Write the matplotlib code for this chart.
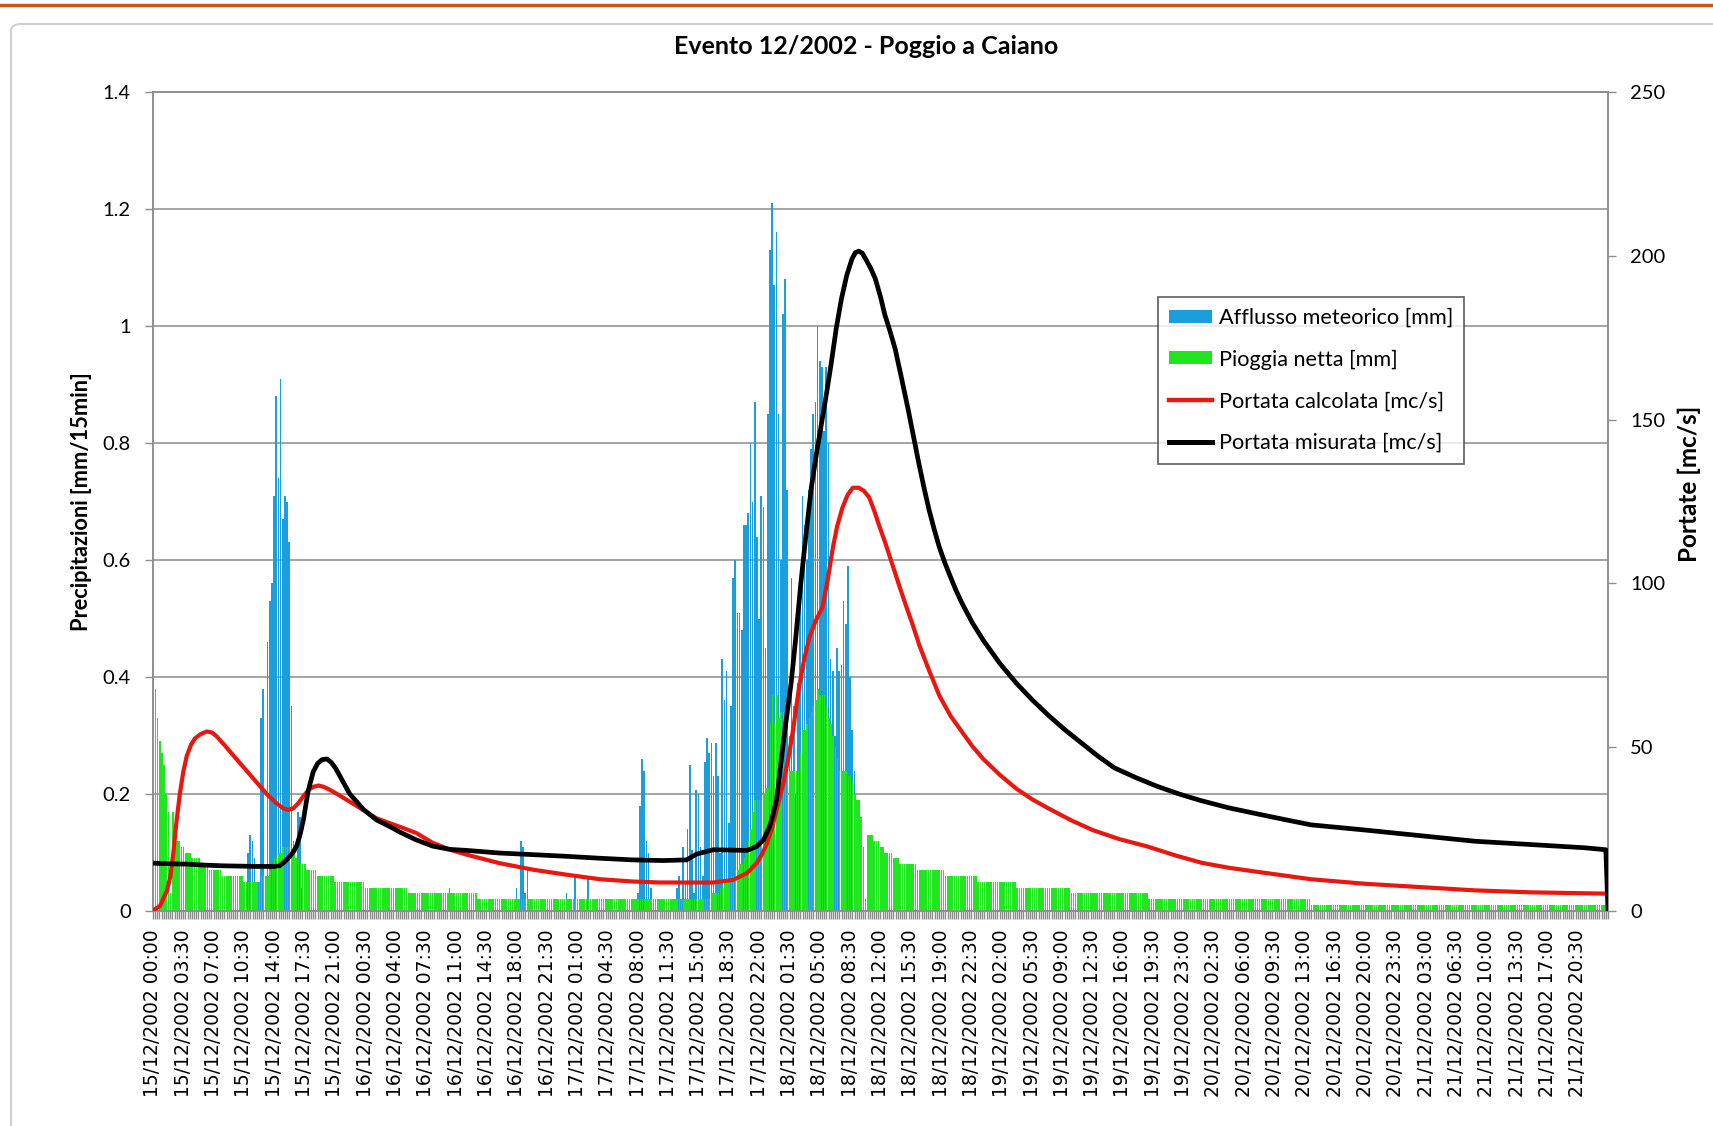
import numpy as np
import matplotlib
matplotlib.use("Agg")
import matplotlib.pyplot as plt
from matplotlib.patches import FancyBboxPatch, Patch
from matplotlib.lines import Line2D
from datetime import datetime, timedelta

# --- dati -------------------------------------------------------------------
inizio = datetime(2002, 12, 15, 0, 0)
n_passi = 673          # passi da 15 minuti: 15/12 00:00 -> 22/12 00:00
passo_h = 0.25

# Afflusso meteorico [mm/15min]: solo i tratti non nulli (indice iniziale, valori)
afflusso_a_da = 44
afflusso_a = [0.10, 0.13, 0.12, 0.09, 0.03, 0.05, 0.33, 0.38, 0.04, 0.46,
              0.53, 0.56, 0.71, 0.88, 0.74, 0.91, 0.67, 0.71, 0.70, 0.63,
              0.35, 0.12, 0.05, 0.17, 0.16, 0.04]
afflusso_b_da = 137
afflusso_b = [0.04]
afflusso_c_da = 168
afflusso_c = [0.04, 0.02, 0.12, 0.11, 0.03, 0.07]
afflusso_d_da = 191
afflusso_d = [0.03, 0, 0, 0, 0.06, 0, 0, 0, 0, 0, 0.06]
afflusso_e_da = 224
afflusso_e = [0.03, 0.18, 0.26, 0.24, 0.12, 0.10, 0.04]
afflusso_f_da = 242
afflusso_f = [0.04, 0.06, 0.02, 0.11, 0.05, 0.14, 0.25, 0.105, 0.03, 0.206,
              0.20, 0.11, 0.06, 0.255, 0.296, 0.27, 0.287, 0.23, 0.287, 0.23,
              0.10, 0.43, 0.36, 0.41, 0.15, 0.35, 0.57, 0.60, 0.51, 0.51,
              0.48, 0.66, 0.66, 0.68, 0.80, 0.70, 0.87, 0.64, 0.50, 0.71,
              0.69, 0.45, 0.85, 1.13, 1.21, 1.07, 1.16, 0.85, 0.60, 1.02,
              1.08, 0.72, 0.30, 0.57, 0.35, 0.20, 0.39, 0.57, 0.71, 0.66,
              0.60, 0.72, 0.79, 0.85, 0.87, 1.00, 0.94, 0.93, 0.82, 0.93,
              0.80, 0.43, 0.41, 0.30, 0.45, 0.41, 0.42, 0.53, 0.49, 0.59,
              0.40, 0.31, 0.24, 0.05]

# Pioggia netta [mm/15min]: tratti variabili e gradini (valore, n. passi)
netta_inizio = [0.42, 0.38, 0.33, 0.29, 0.27, 0.25, 0.20, 0.17, 0.03, 0.17,
                0.13, 0.12, 0.12, 0.11, 0.11, 0.10, 0.10, 0.10, 0.09, 0.09,
                0.09, 0.09, 0.08, 0.08, 0.08, 0.08]
netta_gradini_1 = [(0.07, 6), (0.06, 10), (0.05, 6)]
netta_evento_1 = [0.05, 0.05, 0.06, 0.06, 0.06, 0.06, 0.07, 0.08, 0.09, 0.09,
                  0.10, 0.10, 0.11, 0.11, 0.11, 0.11, 0.10, 0.10, 0.09, 0.09,
                  0.08, 0.08, 0.08, 0.07, 0.07, 0.07, 0.07, 0.07]
netta_gradini_2 = [(0.06, 8), (0.05, 14), (0.04, 20), (0.03, 32), (0.02, 106)]
netta_evento_2 = [0.02, 0.02, 0.03, 0.03, 0.03, 0.03, 0.04, 0.04, 0.05, 0.05,
                  0.05, 0.06, 0.06, 0.07, 0.07, 0.08, 0.08, 0.09, 0.10, 0.12,
                  0.14, 0.17, 0.19, 0.19, 0.19, 0.19, 0.20, 0.21, 0.21, 0.32,
                  0.37, 0.32, 0.37, 0.33, 0.34, 0.34, 0.29, 0.25, 0.24, 0.24,
                  0.24, 0.24, 0.24, 0.27, 0.31, 0.31, 0.32, 0.33, 0.34, 0.35,
                  0.36, 0.38, 0.37, 0.37, 0.37, 0.35, 0.33, 0.32, 0.30, 0.28,
                  0.26, 0.24, 0.24, 0.24, 0.24, 0.23, 0.23, 0.22, 0.20, 0.19,
                  0.19, 0.16, 0.11, 0.02, 0.13, 0.13, 0.13, 0.12, 0.12, 0.12,
                  0.11, 0.11, 0.10, 0.10, 0.10, 0.10, 0.09, 0.09, 0.09, 0.08,
                  0.08]
netta_gradini_3 = [(0.08, 6), (0.07, 13), (0.06, 15), (0.05, 18), (0.04, 25),
                   (0.03, 36), (0.02, 75), (0.01, 138)]

# Portata misurata [mc/s] (ore dall'inizio, valore)
misurata_ore = [0, 2, 4, 6, 8, 10, 12, 14, 14.6, 15.0, 15.4, 15.8, 16.2, 16.6,
                17.0, 17.4, 17.9, 18.5, 19.0, 19.5, 20.1, 20.6, 21.1, 21.6,
                22.7, 24.3, 25.8, 27.4, 28.5, 30.4, 32.3, 34.3, 36.2, 40.0,
                43.9, 47.7, 51.6, 55.4, 58.9, 61.6, 62.8, 64.7, 68.6, 69.7,
                70.5, 71.2, 71.6, 72.0, 72.5, 73.0, 73.7, 74.2, 74.8, 75.4,
                76.0, 76.6, 77.2, 77.8, 78.3, 78.9, 79.5, 80.1, 80.7, 81.1,
                81.5, 81.9, 82.4, 82.9, 83.4, 84.0, 84.5, 85.1, 85.7, 86.4,
                87.2, 87.8, 88.4, 89.0, 89.6, 90.2, 90.8, 91.4, 92.0, 92.7,
                93.4, 94.6, 95.9, 97.8, 99.7, 101.5, 103.4, 105.3, 107.2,
                109.1, 111.0, 113.5, 116.0, 118.5, 121.0, 124.2, 127.4, 130.5,
                133.7, 140.0, 146.3, 152.6, 159.0, 165.3, 167.75, 168.0]
misurata_q = [14.6, 14.4, 14.3, 14.0, 13.8, 13.7, 13.6, 13.6, 13.8, 14.6, 15.5,
              16.7, 18.0, 19.9, 23.5, 28.3, 36.5, 42.5, 45.0, 46.2, 46.4, 45.3,
              43.5, 41.1, 35.8, 31.0, 27.8, 25.7, 24.1, 21.7, 19.8, 18.8, 18.5,
              17.7, 17.2, 16.7, 16.1, 15.6, 15.4, 15.6, 17.4, 18.7, 18.5, 19.7,
              21.7, 25.8, 29.5, 34.0, 45.0, 56.0, 70.0, 83.0, 100.0, 115.0,
              129.0, 139.5, 149.0, 158.5, 167.0, 178.0, 187.0, 194.0, 199.0,
              201.0, 201.4, 200.8, 198.5, 196.0, 193.0, 187.5, 182.0, 177.0,
              171.5, 163.0, 153.0, 145.0, 137.0, 129.5, 122.5, 116.5, 111.0,
              106.5, 102.5, 98.0, 94.0, 88.0, 82.5, 75.5, 69.5, 64.5, 59.7,
              55.3, 51.3, 47.3, 43.7, 40.7, 38.0, 35.7, 33.7, 31.5, 29.7, 28.0,
              26.3, 24.7, 23.0, 21.3, 20.3, 19.3, 18.7, 0.0]

# Portata calcolata [mc/s]
calcolata_ore = [0, 0.8, 1.6, 2.0, 2.35, 2.7, 3.1, 3.5, 3.9, 4.4, 4.85, 5.5,
                 6.2, 6.8, 7.35, 8.3, 9.3, 11.2, 13.1, 14.2, 15.05, 15.6, 16.2,
                 16.8, 17.4, 18.0, 18.5, 19.1, 19.7, 20.4, 21.2, 23.5, 25.8,
                 28.5, 30.4, 32.3, 34.3, 36.2, 40.0, 43.9, 47.7, 51.6, 55.4,
                 58.5, 64.7, 67.0, 68.6, 69.7, 70.3, 70.9, 71.5, 72.0, 72.8,
                 73.5, 74.0, 74.6, 75.2, 75.8, 76.5, 77.3, 77.9, 78.5, 79.0,
                 79.6, 80.2, 80.8, 81.5, 82.1, 82.7, 83.3, 83.8, 84.6, 85.4,
                 86.2, 86.9, 87.7, 88.5, 89.6, 90.8, 92.1, 93.4, 94.6, 95.9,
                 97.8, 99.7, 101.5, 103.4, 106.0, 108.5, 111.5, 114.8, 118.0,
                 121.1, 124.2, 127.4, 133.7, 140.0, 146.3, 152.6, 159.0, 167.75]
calcolata_q = [0.2, 1.5, 6.1, 10.5, 17.8, 27.0, 35.8, 42.5, 47.4, 50.8, 52.7,
               54.0, 54.8, 54.5, 53.3, 50.5, 47.4, 41.6, 35.8, 33.0, 31.3, 30.9,
               31.3, 33.0, 35.2, 37.0, 37.9, 38.3, 37.9, 37.0, 35.8, 32.1, 28.3,
               25.7, 23.8, 20.8, 18.7, 17.2, 14.6, 12.6, 11.1, 9.7, 9.0, 8.7,
               8.7, 9.5, 11.6, 14.6, 17.2, 20.7, 25.5, 30.9, 39.1, 48.6, 57.0,
               68.4, 77.0, 83.6, 88.5, 92.7, 101.0, 110.9, 117.5, 123.1, 127.0,
               129.2, 129.2, 128.2, 126.2, 122.0, 118.0, 112.0, 105.5, 99.0,
               93.5, 87.5, 81.0, 73.5, 65.7, 59.5, 54.7, 50.3, 46.3, 41.5, 37.3,
               34.1, 31.3, 27.7, 24.7, 22.0, 19.7, 17.0, 14.7, 13.2, 12.0, 9.7,
               8.3, 7.3, 6.3, 5.7, 5.3]


def espandi(*pezzi):
    out = []
    for p in pezzi:
        for v in p:
            if isinstance(v, tuple):
                out += [v[0]] * v[1]
            else:
                out.append(v)
    return out


netta = np.array(espandi(netta_inizio, netta_gradini_1, netta_evento_1,
                         netta_gradini_2, netta_evento_2, netta_gradini_3))
afflusso = np.zeros(n_passi)
for da, vals in [(afflusso_a_da, afflusso_a), (afflusso_b_da, afflusso_b),
                 (afflusso_c_da, afflusso_c), (afflusso_d_da, afflusso_d),
                 (afflusso_e_da, afflusso_e), (afflusso_f_da, afflusso_f)]:
    afflusso[da:da + len(vals)] = vals

ore = np.arange(n_passi) * passo_h

# --- figura -----------------------------------------------------------------
BLU = "#1a9fdc"
VERDE = "#1fe61f"
ROSSO = "#e8170f"
GRIGIO = "#8c8c8c"
CAL = ["Lato", "DejaVu Sans"]

fig = plt.figure(figsize=(17.13, 11.26), dpi=100)
ax = fig.add_axes([153 / 1713, 1 - 911 / 1126, 1455 / 1713, 819 / 1126])
ax2 = ax.twinx()

# afflusso dietro, pioggia netta davanti un po' spostata
ax.bar(ore - 0.02, afflusso, width=0.19, color=BLU, linewidth=0, zorder=2)
ax.bar(ore + 0.03, netta, width=0.18, color=VERDE, linewidth=0, zorder=3)

ax2.plot(calcolata_ore, calcolata_q, color=ROSSO, lw=3.0,
         solid_joinstyle="round", zorder=4)
ax2.plot(misurata_ore, misurata_q, color="black", lw=3.4,
         solid_joinstyle="round", zorder=5)

ax.set_xlim(0, 168)
ax.set_ylim(0, 1.4)
ax2.set_ylim(0, 250)

ax.set_yticks(np.arange(0, 1.41, 0.2))
ax.set_yticklabels(["0", "0.2", "0.4", "0.6", "0.8", "1", "1.2", "1.4"])
ax2.set_yticks(np.arange(0, 251, 50))
ax.grid(axis="y", color=GRIGIO, lw=1.1, zorder=0)
ax.set_axisbelow(True)

tick_ore = np.arange(0, 165, 3.5)
ax.set_xticks(tick_ore)
ax.set_xticklabels([(inizio + timedelta(hours=float(h))).strftime("%d/%m/%Y %H:%M")
                    for h in tick_ore], rotation=90, family="DejaVu Sans",
                   fontsize=13.5)
ax.set_xticks(ore, minor=True)
ax.tick_params(axis="x", which="both", length=6, width=1, color=GRIGIO, pad=7)
ax.tick_params(axis="y", length=6, width=1, color=GRIGIO, pad=10,
               labelsize=14.5)
ax2.tick_params(axis="y", length=6, width=1, color=GRIGIO, pad=10,
                labelsize=14.5)
for t in ax.get_yticklabels() + ax2.get_yticklabels():
    t.set_family(CAL)

for a in (ax, ax2):
    for s in a.spines.values():
        s.set_color(GRIGIO)
        s.set_linewidth(1.1)

fig.text(866 / 1713, 1 - 47 / 1126, "Evento 12/2002 - Poggio a Caiano",
         family=CAL, fontweight="bold", fontsize=18, ha="center", va="center")
fig.text(82 / 1713, 1 - 502 / 1126, "Precipitazioni [mm/15min]", family=CAL,
         fontweight="bold", fontsize=15.7, rotation=90, ha="center", va="center")
fig.text(1689 / 1713, 1 - 484 / 1126, "Portate [mc/s]", family=CAL,
         fontweight="bold", fontsize=17.5, rotation=90, ha="center", va="center")

maniglie = [Patch(facecolor=BLU, edgecolor="none"),
            Patch(facecolor=VERDE, edgecolor="none"),
            Line2D([], [], color=ROSSO, lw=3.2),
            Line2D([], [], color="black", lw=3.6)]
etichette = ["Afflusso meteorico [mm]", "Pioggia netta [mm]",
             "Portata calcolata [mc/s]", "Portata misurata [mc/s]"]
leg = ax2.legend(maniglie, etichette, loc="upper left",
                 bbox_to_anchor=(0.6907, 0.7497),
                 prop={"family": CAL, "size": 15.6},
                 frameon=True, fancybox=False, edgecolor="#333333",
                 handlelength=2.0, handleheight=0.55, handletextpad=0.3,
                 labelspacing=1.0, borderpad=0.5, borderaxespad=0)
leg.get_frame().set_linewidth(1.2)
leg.set_zorder(10)

# cornice e riga arancione della pagina
fig.add_artist(Line2D([0, 1], [1 - 5 / 1126] * 2, color="#c8561a", lw=2.5))
fig.add_artist(FancyBboxPatch((11 / 1713, -0.05), 1.2, 1 - 24 / 1126 + 0.05,
                              boxstyle="round,pad=0,rounding_size=0.006",
                              transform=fig.transFigure, fill=False,
                              edgecolor="#d0d0d0", lw=1.5))

fig.savefig("out.png", dpi=100)
